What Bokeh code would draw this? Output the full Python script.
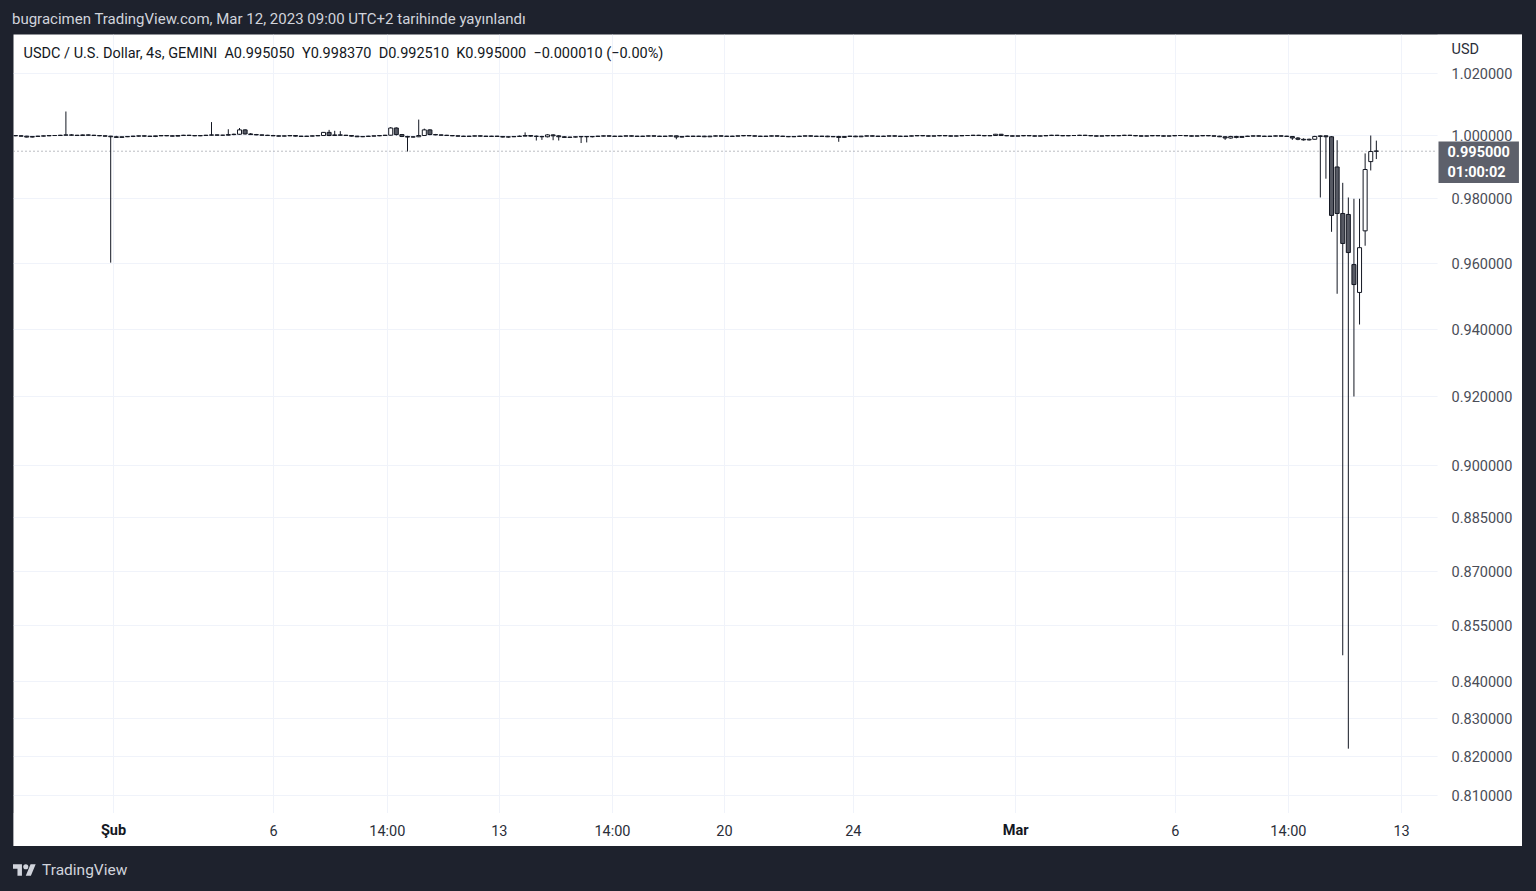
from bokeh.plotting import figure
from bokeh.models import (ColumnDataSource, Range1d, FixedTicker, PrintfTickFormatter,
                          Label, Div, GlobalInlineStyleSheet)
from bokeh.layouts import column
from bokeh.embed import file_html
from bokeh.resources import INLINE

# ---------------- data (USDC/USD, 4s bars, GEMINI) ----------------
opens = [
    1.0000, 0.9999, 0.9998, 0.9995, 0.9997, 0.9998, 0.9999, 1.0000, 1.0000, 1.0001,
    1.0002, 1.0001, 1.0000, 1.0002, 1.0001, 1.0000, 0.9999, 0.9998, 0.9996, 0.9994,
    0.9996, 0.9997, 0.9998, 0.9999, 0.9998, 0.9997, 0.9999, 1.0000, 0.9999, 0.9998,
    1.0000, 1.0001, 1.0000, 0.9999, 1.0000, 1.0001, 1.0002, 1.0001, 1.0001, 1.0003,
    1.0004, 1.0018, 1.0005, 1.0003, 1.0002, 1.0001, 1.0000, 0.9999, 0.9998, 0.9999,
    1.0000, 0.9998, 0.9997, 0.9998, 0.9999, 1.0000, 1.0010, 1.0000, 1.0002, 1.0001,
    1.0000, 0.9998, 0.9996, 0.9997, 0.9998, 0.9999, 1.0000, 1.0001, 1.0024, 1.0003,
    0.9997, 0.9995, 0.9996, 1.0000, 1.0018, 1.0003, 1.0002, 1.0001, 1.0000, 0.9999,
    0.9998, 0.9997, 0.9998, 0.9999, 0.9998, 0.9997, 0.9998, 0.9997, 0.9995, 0.9996,
    0.9997, 0.9998, 1.0000, 0.9998, 0.9997, 0.9996, 1.0002, 0.9999, 0.9996, 0.9994,
    0.9995, 0.9996, 0.9997, 0.9996, 0.9997, 0.9998, 0.9999, 0.9998, 0.9997, 0.9998,
    0.9999, 0.9998, 0.9997, 0.9998, 0.9999, 0.9998, 0.9997, 0.9998, 0.9999, 0.9995,
    0.9997, 0.9998, 0.9997, 0.9998, 0.9996, 0.9998, 0.9999, 0.9998, 0.9997, 0.9998,
    0.9999, 1.0000, 0.9999, 0.9998, 0.9997, 0.9998, 0.9999, 0.9998, 0.9997, 0.9996,
    0.9997, 0.9998, 0.9999, 0.9998, 0.9997, 0.9998, 0.9996, 0.9997, 0.9994, 0.9997,
    0.9998, 0.9996, 0.9998, 0.9999, 0.9998, 0.9997, 0.9998, 0.9999, 0.9998, 0.9997,
    0.9998, 0.9999, 1.0000, 0.9999, 0.9998, 0.9999, 1.0000, 0.9999, 0.9998, 0.9999,
    1.0000, 1.0000, 1.0001, 1.0000, 0.9999, 1.0000, 1.0004, 1.0000, 0.9999, 0.9998,
    0.9999, 1.0000, 0.9999, 0.9998, 0.9999, 1.0000, 1.0001, 1.0000, 0.9999, 1.0000,
    1.0000, 1.0001, 1.0000, 0.9999, 0.9998, 0.9999, 1.0000, 0.9999, 1.0000, 1.0001,
    1.0000, 0.9999, 0.9998, 0.9999, 1.0000, 0.9999, 0.9998, 0.9999, 1.0000, 1.0000,
    0.9999, 0.9998, 0.9999, 1.0000, 0.9999, 0.9998, 0.9996, 0.9992, 0.9997, 0.9994,
    0.9997, 0.9998, 0.9999, 0.9998, 0.9997, 0.9998, 0.9999, 0.9998, 0.9997, 0.9992,
    0.9988, 0.9986, 0.9988, 0.9997, 0.9999, 0.9996, 0.9900, 0.9754, 0.9751, 0.9596,
    0.9511, 0.9700, 0.9917, 0.99505,
]
highs = [
    1.0001, 1.0001, 0.9999, 0.9998, 0.9999, 1.0000, 1.0001, 1.0001, 1.0002, 1.0077,
    1.0004, 1.0002, 1.0003, 1.0003, 1.0002, 1.0001, 1.0000, 0.9999, 0.9999, 0.9997,
    0.9998, 0.9999, 1.0000, 1.0000, 0.9999, 0.9999, 1.0001, 1.0001, 1.0000, 1.0001,
    1.0002, 1.0002, 1.0001, 1.0001, 1.0002, 1.0043, 1.0003, 1.0002, 1.0020, 1.0006,
    1.0024, 1.0020, 1.0008, 1.0005, 1.0003, 1.0002, 1.0002, 1.0000, 1.0000, 1.0001,
    1.0001, 0.9999, 0.9999, 1.0000, 1.0001, 1.0011, 1.0018, 1.0015, 1.0014, 1.0002,
    1.0001, 0.9999, 0.9998, 0.9999, 1.0000, 1.0001, 1.0002, 1.0027, 1.0026, 1.0004,
    0.9999, 0.9998, 1.0051, 1.0022, 1.0020, 1.0005, 1.0003, 1.0002, 1.0001, 1.0000,
    0.9999, 0.9999, 1.0000, 1.0000, 0.9999, 0.9999, 0.9999, 0.9998, 0.9997, 0.9998,
    1.0000, 1.0010, 1.0001, 1.0000, 0.9999, 1.0004, 1.0004, 1.0001, 0.9998, 0.9996,
    0.9997, 0.9998, 0.9998, 0.9998, 0.9999, 1.0000, 1.0000, 0.9999, 0.9999, 1.0000,
    1.0000, 0.9999, 0.9999, 1.0000, 1.0000, 0.9999, 0.9999, 1.0000, 1.0000, 0.9998,
    0.9999, 0.9999, 0.9999, 0.9999, 0.9999, 1.0000, 1.0000, 0.9999, 0.9999, 1.0000,
    1.0001, 1.0001, 1.0000, 0.9999, 0.9999, 1.0000, 1.0000, 0.9999, 0.9998, 0.9998,
    0.9999, 1.0000, 1.0000, 0.9999, 0.9999, 0.9999, 0.9998, 0.9999, 0.9998, 0.9999,
    0.9999, 0.9999, 1.0000, 1.0000, 0.9999, 0.9999, 1.0000, 1.0000, 0.9999, 0.9999,
    1.0000, 1.0001, 1.0001, 1.0000, 1.0000, 1.0001, 1.0001, 1.0000, 1.0000, 1.0001,
    1.0001, 1.0002, 1.0002, 1.0001, 1.0001, 1.0005, 1.0005, 1.0001, 1.0000, 1.0000,
    1.0001, 1.0001, 1.0000, 1.0000, 1.0001, 1.0002, 1.0002, 1.0001, 1.0001, 1.0001,
    1.0002, 1.0002, 1.0001, 1.0000, 1.0000, 1.0001, 1.0001, 1.0001, 1.0002, 1.0002,
    1.0001, 1.0000, 1.0000, 1.0001, 1.0001, 1.0000, 1.0000, 1.0001, 1.0001, 1.0001,
    1.0000, 1.0000, 1.0001, 1.0001, 1.0000, 0.9999, 0.9998, 0.9999, 0.9999, 0.9998,
    0.9999, 1.0000, 1.0000, 0.9999, 0.9999, 1.0000, 1.0000, 0.9999, 0.9998, 0.9995,
    0.9991, 0.9990, 0.9999, 1.0001, 1.0000, 0.9998, 0.9985, 0.9850, 0.9804, 0.9800,
    0.9800, 0.9943, 1.0000, 0.99837,
]
lows = [
    0.9998, 0.9997, 0.9994, 0.9994, 0.9996, 0.9997, 0.9998, 0.9999, 0.9999, 1.0000,
    1.0000, 0.9999, 1.0000, 1.0000, 0.9999, 0.9998, 0.9997, 0.9602, 0.9993, 0.9993,
    0.9995, 0.9995, 0.9996, 0.9997, 0.9996, 0.9995, 0.9998, 0.9998, 0.9997, 0.9997,
    0.9999, 0.9999, 0.9998, 0.9998, 0.9999, 1.0000, 1.0000, 1.0000, 1.0000, 1.0001,
    1.0002, 1.0003, 1.0002, 1.0001, 1.0000, 0.9999, 0.9998, 0.9997, 0.9997, 0.9998,
    0.9997, 0.9996, 0.9996, 0.9997, 0.9998, 0.9999, 0.9998, 0.9999, 1.0000, 0.9999,
    0.9997, 0.9995, 0.9995, 0.9996, 0.9997, 0.9998, 0.9999, 1.0000, 1.0000, 0.9995,
    0.9949, 0.9994, 0.9995, 0.9999, 1.0001, 1.0001, 1.0000, 0.9999, 0.9998, 0.9997,
    0.9996, 0.9996, 0.9997, 0.9997, 0.9996, 0.9996, 0.9996, 0.9994, 0.9993, 0.9995,
    0.9996, 0.9997, 0.9996, 0.9984, 0.9986, 0.9994, 0.9985, 0.9984, 0.9993, 0.9992,
    0.9994, 0.9976, 0.9978, 0.9994, 0.9996, 0.9997, 0.9997, 0.9996, 0.9996, 0.9997,
    0.9997, 0.9996, 0.9996, 0.9997, 0.9997, 0.9996, 0.9996, 0.9997, 0.9988, 0.9994,
    0.9996, 0.9996, 0.9996, 0.9995, 0.9995, 0.9997, 0.9997, 0.9996, 0.9996, 0.9997,
    0.9998, 0.9998, 0.9997, 0.9996, 0.9996, 0.9997, 0.9997, 0.9996, 0.9995, 0.9995,
    0.9996, 0.9997, 0.9997, 0.9996, 0.9996, 0.9995, 0.9995, 0.9980, 0.9993, 0.9996,
    0.9995, 0.9995, 0.9997, 0.9997, 0.9996, 0.9996, 0.9997, 0.9997, 0.9996, 0.9996,
    0.9997, 0.9998, 0.9998, 0.9997, 0.9997, 0.9998, 0.9998, 0.9997, 0.9997, 0.9998,
    0.9999, 0.9999, 0.9999, 0.9998, 0.9998, 0.9999, 0.9999, 0.9998, 0.9997, 0.9997,
    0.9998, 0.9998, 0.9997, 0.9997, 0.9998, 0.9999, 0.9999, 0.9998, 0.9998, 0.9999,
    0.9999, 0.9999, 0.9998, 0.9997, 0.9997, 0.9998, 0.9998, 0.9998, 0.9999, 0.9999,
    0.9998, 0.9997, 0.9997, 0.9998, 0.9998, 0.9997, 0.9997, 0.9998, 0.9999, 0.9998,
    0.9997, 0.9997, 0.9998, 0.9998, 0.9997, 0.9995, 0.9986, 0.9990, 0.9991, 0.9993,
    0.9996, 0.9997, 0.9997, 0.9996, 0.9996, 0.9997, 0.9997, 0.9996, 0.9986, 0.9985,
    0.9984, 0.9984, 0.9987, 0.9804, 0.9863, 0.9697, 0.9507, 0.8470, 0.8221, 0.9200,
    0.9414, 0.9654, 0.9889, 0.99251,
]
closes = [
    0.9999, 0.9998, 0.9995, 0.9997, 0.9998, 0.9999, 1.0000, 1.0000, 1.0001, 1.0002,
    1.0001, 1.0000, 1.0002, 1.0001, 1.0000, 0.9999, 0.9998, 0.9996, 0.9994, 0.9996,
    0.9997, 0.9998, 0.9999, 0.9998, 0.9997, 0.9999, 1.0000, 0.9999, 0.9998, 1.0000,
    1.0001, 1.0000, 0.9999, 1.0000, 1.0001, 1.0002, 1.0001, 1.0001, 1.0003, 1.0004,
    1.0018, 1.0005, 1.0003, 1.0002, 1.0001, 1.0000, 0.9999, 0.9998, 0.9999, 1.0000,
    0.9998, 0.9997, 0.9998, 0.9999, 1.0000, 1.0010, 1.0000, 1.0002, 1.0001, 1.0000,
    0.9998, 0.9996, 0.9997, 0.9998, 0.9999, 1.0000, 1.0001, 1.0024, 1.0003, 0.9997,
    0.9995, 0.9996, 1.0000, 1.0018, 1.0003, 1.0002, 1.0001, 1.0000, 0.9999, 0.9998,
    0.9997, 0.9998, 0.9999, 0.9998, 0.9997, 0.9998, 0.9997, 0.9995, 0.9996, 0.9997,
    0.9998, 1.0000, 0.9998, 0.9997, 0.9996, 1.0002, 0.9999, 0.9996, 0.9994, 0.9995,
    0.9996, 0.9997, 0.9996, 0.9997, 0.9998, 0.9999, 0.9998, 0.9997, 0.9998, 0.9999,
    0.9998, 0.9997, 0.9998, 0.9999, 0.9998, 0.9997, 0.9998, 0.9999, 0.9995, 0.9997,
    0.9998, 0.9997, 0.9998, 0.9996, 0.9998, 0.9999, 0.9998, 0.9997, 0.9998, 0.9999,
    1.0000, 0.9999, 0.9998, 0.9997, 0.9998, 0.9999, 0.9998, 0.9997, 0.9996, 0.9997,
    0.9998, 0.9999, 0.9998, 0.9997, 0.9998, 0.9996, 0.9997, 0.9994, 0.9997, 0.9998,
    0.9996, 0.9998, 0.9999, 0.9998, 0.9997, 0.9998, 0.9999, 0.9998, 0.9997, 0.9998,
    0.9999, 1.0000, 0.9999, 0.9998, 0.9999, 1.0000, 0.9999, 0.9998, 0.9999, 1.0000,
    1.0000, 1.0001, 1.0000, 0.9999, 1.0000, 1.0004, 1.0000, 0.9999, 0.9998, 0.9999,
    1.0000, 0.9999, 0.9998, 0.9999, 1.0000, 1.0001, 1.0000, 0.9999, 1.0000, 1.0000,
    1.0001, 1.0000, 0.9999, 0.9998, 0.9999, 1.0000, 0.9999, 1.0000, 1.0001, 1.0000,
    0.9999, 0.9998, 0.9999, 1.0000, 0.9999, 0.9998, 0.9999, 1.0000, 1.0000, 0.9999,
    0.9998, 0.9999, 1.0000, 0.9999, 0.9998, 0.9996, 0.9992, 0.9997, 0.9994, 0.9997,
    0.9998, 0.9999, 0.9998, 0.9997, 0.9998, 0.9999, 0.9998, 0.9997, 0.9992, 0.9988,
    0.9986, 0.9988, 0.9997, 0.9999, 0.9996, 0.9748, 0.9754, 0.9661, 0.9633, 0.9535,
    0.9648, 0.9892, 0.9949, 0.99500,
]

# x-axis: bar index positions of the date/time labels
x_tick_pos = [17.5, 46.1, 66.4, 86.4, 106.6, 126.6, 149.6, 178.6, 207.1, 227.3, 247.5]
x_tick_labels = ["Şub", "6", "14:00", "13", "14:00", "20", "24", "Mar", "6", "14:00", "13"]
month_labels = ["Şub", "Mar"]
y_ticks = [1.02, 1.00, 0.98, 0.96, 0.94, 0.92, 0.90, 0.885, 0.87, 0.855, 0.84, 0.83, 0.82, 0.81]
last_price = 0.995
countdown = "01:00:02"
symbol_line = ("USDC / U.S. Dollar, 4s, GEMINI \u00a0A0.995050 \u00a0Y0.998370 \u00a0D0.992510 "
               "\u00a0K0.995000 \u00a0\u22120.000010 (\u22120.00%)")
header_text = "bugracimen TradingView.com, Mar 12, 2023 09:00 UTC+2 tarihinde yayınlandı"

# ---------------- layout constants ----------------
X_START, X_END = -0.357, 269.1        # whole white panel, in bar units
Y_START, Y_END = 0.7968, 1.0328       # whole white panel, price (log)
PRICE_AXIS_X = 253.93                 # right edge of the candle area
TIME_AXIS_Y = 0.8054                  # bottom edge of the candle area

# ---------------- build sources ----------------
n = min(len(opens), len(highs), len(lows), len(closes))
xs = list(range(n))
up = dict(x=[], top=[], bottom=[])
dn = dict(x=[], top=[], bottom=[])
for i in range(n):
    o, c = opens[i], closes[i]
    d = up if c >= o else dn
    d["x"].append(i)
    d["top"].append(max(o, c))
    d["bottom"].append(min(o, c))
wicks = ColumnDataSource(dict(x=xs, high=highs[:n], low=lows[:n]))

FONT = "Roboto"
INK = "#131722"

p = figure(width=1509, height=812,
           x_range=Range1d(X_START, X_END), y_range=Range1d(Y_START, Y_END),
           y_axis_type="log", y_axis_location="right",
           output_backend="svg", toolbar_location=None, min_border=0,
           border_fill_color="white", background_fill_color="white",
           outline_line_color=None, margin=(0, 0, 0, 13))

# white masks so the grid stays inside the candle area
p.quad(left=[PRICE_AXIS_X], right=[X_END], bottom=[Y_START], top=[Y_END],
       fill_color="white", line_color=None)
p.quad(left=[X_START], right=[X_END], bottom=[Y_START], top=[TIME_AXIS_Y],
       fill_color="white", line_color=None)

# last price dotted line
p.segment(x0=[X_START], x1=[PRICE_AXIS_X], y0=[last_price], y1=[last_price],
          line_color="#787b86", line_dash="1 3", line_width=1)

# candles
p.segment(x0="x", y0="low", x1="x", y1="high", source=wicks, line_color=INK, line_width=1)
p.vbar(x="x", top="top", bottom="bottom", width=0.72, source=ColumnDataSource(up),
       fill_color="white", line_color=INK, line_width=1)
p.vbar(x="x", top="top", bottom="bottom", width=0.72, source=ColumnDataSource(dn),
       fill_color="#565963", line_color=INK, line_width=1)

# axes (drawn at the edges of the candle area)
xa = p.xaxis[0]
xa.fixed_location = TIME_AXIS_Y
xa.ticker = FixedTicker(ticks=x_tick_pos)
xa.major_label_overrides = {pos: ("" if lab in month_labels else lab)
                            for pos, lab in zip(x_tick_pos, x_tick_labels)}
ya = p.yaxis[0]
ya.fixed_location = PRICE_AXIS_X
ya.ticker = FixedTicker(ticks=y_ticks)
ya.formatter = PrintfTickFormatter(format="%.6f")
for ax, col in ((xa, "#2a2e39"), (ya, "#4a4d57")):
    ax.axis_line_color = None
    ax.major_tick_line_color = None
    ax.minor_tick_line_color = None
    ax.major_tick_out = 0
    ax.major_tick_in = 0
    ax.major_label_text_font = FONT
    ax.major_label_text_font_size = "14.5px"
    ax.major_label_text_color = col
xa.major_label_standoff = 10
ya.major_label_standoff = 14

p.xgrid.grid_line_color = "#f0f3fa"
p.ygrid.grid_line_color = "#f0f3fa"

# bold month labels on the time axis
for pos, lab in zip(x_tick_pos, x_tick_labels):
    if lab in month_labels:
        p.add_layout(Label(x=pos, y=16, x_units="data", y_units="screen", text=lab,
                           text_align="center", text_baseline="middle",
                           text_font=FONT, text_font_size="14.5px",
                           text_font_style="bold", text_color=INK))

p.add_layout(Label(x=10, y=793, x_units="screen", y_units="screen", text=symbol_line,
                   text_baseline="middle", text_font=FONT, text_font_size="14.5px",
                   text_color=INK))
p.add_layout(Label(x=1438, y=797, x_units="screen", y_units="screen", text="USD",
                   text_baseline="middle", text_font=FONT, text_font_size="14.5px",
                   text_color="#2a2e39"))
p.add_layout(Label(x=1425, y=705, x_units="screen", y_units="screen",
                   text="%.6f\n%s" % (last_price, countdown),
                   text_baseline="top", text_align="left", text_font=FONT,
                   text_font_size="14.5px", text_font_style="bold", text_color="white",
                   background_fill_color="#5d606b", background_fill_alpha=1.0,
                   padding=(9, 2)))

header = Div(text=header_text, width=1524, height=34, margin=(0, 0, 0, 12),
             styles={"color": "#d1d4dc", "font-size": "15px", "font-family": FONT,
                     "line-height": "38px", "white-space": "nowrap"})

logo_svg = ('<svg width="23" height="12" viewBox="0 4 36 18">'
            '<path d="M14 22H7V11H0V4h14v18zM28 22h-8l7.5-18h8L28 22z" fill="#d1d4dc"/>'
            '<circle cx="20" cy="8" r="4" fill="#d1d4dc"/></svg>')
footer = Div(text=('<div style="display:flex;align-items:center;height:48px;">' + logo_svg +
                   '<span style="margin-left:6px;font-family:Roboto;font-size:15.5px;'
                   'color:#d1d4dc;">TradingView</span></div>'),
             width=1523, height=45, margin=(0, 0, 0, 13))

layout = column(header, p, footer, spacing=0,
                styles={"background-color": "#1e222d"},
                stylesheets=[GlobalInlineStyleSheet(css="body{background-color:#1e222d;}")])

open("out.html", "w").write(file_html(layout, INLINE))
